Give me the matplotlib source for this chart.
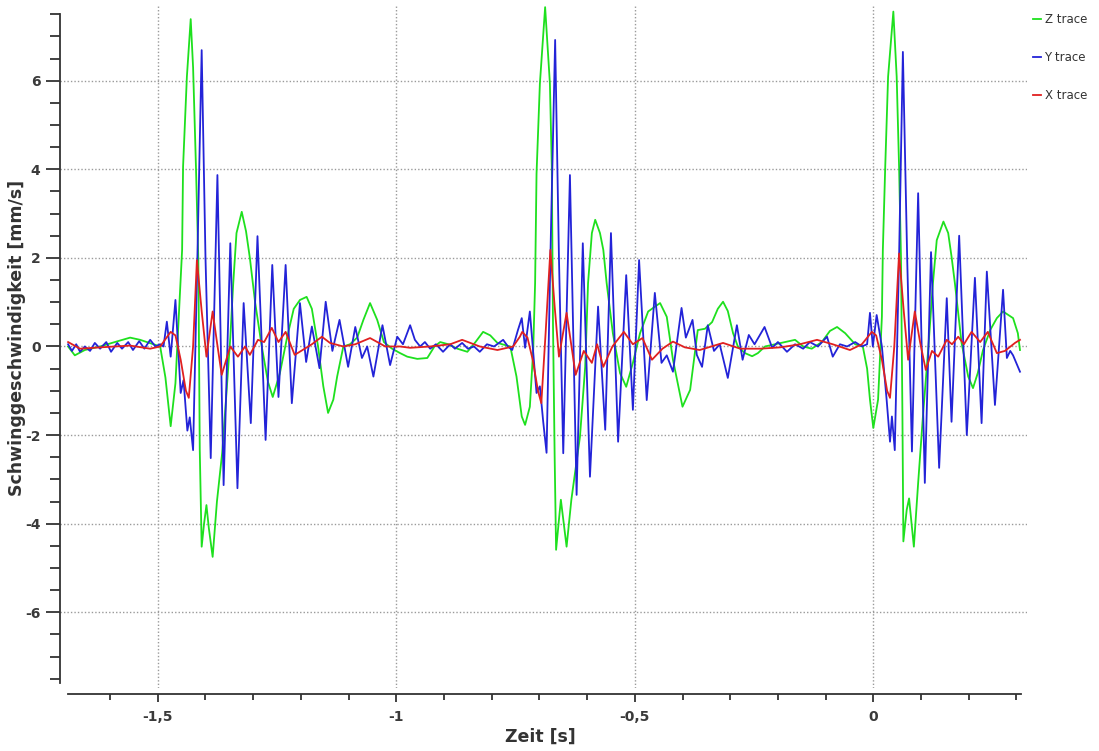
import matplotlib
matplotlib.use("Agg")
import matplotlib.pyplot as plt
from matplotlib.ticker import FixedLocator, FixedFormatter

plt.rcParams['axes.unicode_minus'] = False

# ---------------- data (time in s, velocity in mm/s) ----------------
t_z = [-1.688, -1.674, -1.653, -1.621, -1.590, -1.558, -1.537, -1.495, -1.484, -1.473,
       -1.463, -1.456, -1.449, -1.447, -1.439, -1.431, -1.426, -1.420, -1.415, -1.412,
       -1.408, -1.403, -1.398, -1.393, -1.385, -1.376, -1.365, -1.357, -1.348, -1.342,
       -1.335, -1.324, -1.315, -1.307, -1.296, -1.282, -1.269, -1.259, -1.244, -1.229,
       -1.215, -1.202, -1.188, -1.177, -1.164, -1.153, -1.143, -1.132, -1.124, -1.111,
       -1.097, -1.082, -1.069, -1.055, -1.040, -1.026, -1.009, -0.992, -0.977, -0.956,
       -0.935, -0.920, -0.908, -0.891, -0.872, -0.851, -0.834, -0.818, -0.803, -0.788,
       -0.761, -0.748, -0.737, -0.730, -0.720, -0.713, -0.709, -0.706, -0.699, -0.688,
       -0.678, -0.674, -0.6715, -0.668, -0.665, -0.655, -0.643, -0.633, -0.615, -0.604,
       -0.598, -0.590, -0.583, -0.573, -0.566, -0.559, -0.546, -0.531, -0.518, -0.504,
       -0.489, -0.472, -0.447, -0.433, -0.420, -0.400, -0.384, -0.368, -0.353, -0.338,
       -0.326, -0.315, -0.305, -0.294, -0.284, -0.269, -0.254, -0.242, -0.227, -0.206,
       -0.185, -0.164, -0.147, -0.129, -0.108, -0.091, -0.076, -0.059, -0.038, -0.022,
       -0.013, -0.007, 0.000, 0.010, 0.018, 0.020, 0.025, 0.031, 0.042, 0.049,
       0.054, 0.058, 0.061, 0.063, 0.070, 0.075, 0.085, 0.094, 0.104, 0.115,
       0.125, 0.133, 0.147, 0.157, 0.164, 0.171, 0.185, 0.199, 0.209, 0.219,
       0.230, 0.245, 0.259, 0.272, 0.293, 0.303, 0.3075]
v_z = [0.0, -0.2, -0.08, 0.0, 0.1, 0.2, 0.15, 0.0, -0.7, -1.8,
       -0.83, 0.67, 2.18, 4.06, 6.09, 7.39, 6.3, 4.06, 1.95, -2.34,
       -4.52, -4.0, -3.58, -4.1, -4.75, -3.5, -2.4, -1.2, 0.2, 1.4,
       2.56, 3.04, 2.6, 2.0, 1.0, 0.0, -0.8, -1.14, -0.6, 0.2,
       0.85, 1.05, 1.12, 0.85, 0.0, -0.9, -1.5, -1.2, -0.68, 0.0,
       0.05, 0.2, 0.6, 0.98, 0.6, 0.1, -0.05, -0.15, -0.23, -0.28,
       -0.26, 0.0, 0.1, 0.05, -0.05, -0.12, 0.1, 0.33, 0.25, 0.08,
       0.0, -0.68, -1.58, -1.77, -1.36, -0.08, 1.43, 3.9, 5.93, 7.66,
       5.94, 4.06, 0.5, -2.5, -4.59, -3.46, -4.52, -3.46, -2.04, -0.46,
       1.43, 2.56, 2.86, 2.56, 2.18, 1.43, 0.3, -0.6, -0.91, -0.37,
       0.3, 0.79, 0.98, 0.67, -0.3, -1.36, -0.98, 0.37, 0.4, 0.55,
       0.85, 1.01, 0.8, 0.3, 0.0, -0.15, -0.22, -0.15, 0.0, 0.05,
       0.1, 0.15, 0.0, -0.05, 0.1, 0.35, 0.44, 0.3, 0.05, 0.0,
       -0.5, -1.2, -1.84, -1.2, 0.67, 2.18, 4.06, 6.09, 7.56, 6.09,
       4.06, 2.03, -1.5, -4.4, -3.69, -3.43, -4.52, -3.08, -1.58, -0.08,
       1.43, 2.4, 2.82, 2.56, 2.03, 1.43, 0.08, -0.68, -0.94, -0.6,
       -0.08, 0.37, 0.64, 0.79, 0.64, 0.3, -0.08]

t_y = [-1.688, -1.680, -1.671, -1.663, -1.653, -1.642, -1.632, -1.621, -1.608, -1.598,
       -1.585, -1.575, -1.562, -1.552, -1.539, -1.528, -1.516, -1.505, -1.495, -1.488,
       -1.481, -1.473, -1.463, -1.452, -1.446, -1.438, -1.433, -1.426, -1.417, -1.408,
       -1.400, -1.389, -1.375, -1.362, -1.348, -1.333, -1.320, -1.305, -1.291, -1.274,
       -1.260, -1.247, -1.232, -1.219, -1.202, -1.189, -1.177, -1.161, -1.148, -1.134,
       -1.119, -1.101, -1.086, -1.072, -1.061, -1.048, -1.029, -1.013, -0.998, -0.986,
       -0.971, -0.961, -0.950, -0.940, -0.929, -0.917, -0.902, -0.887, -0.877, -0.862,
       -0.850, -0.837, -0.825, -0.810, -0.795, -0.776, -0.766, -0.757, -0.745, -0.737,
       -0.730, -0.720, -0.706, -0.699, -0.692, -0.685, -0.676, -0.667, -0.659, -0.650,
       -0.636, -0.622, -0.609, -0.594, -0.577, -0.562, -0.550, -0.535, -0.518, -0.504,
       -0.491, -0.475, -0.458, -0.444, -0.433, -0.420, -0.402, -0.393, -0.379, -0.370,
       -0.359, -0.347, -0.334, -0.322, -0.305, -0.286, -0.274, -0.261, -0.249, -0.228,
       -0.212, -0.200, -0.181, -0.164, -0.147, -0.133, -0.116, -0.097, -0.085, -0.070,
       -0.055, -0.038, -0.024, -0.013, -0.007, -0.001, 0.007, 0.018, 0.028, 0.035,
       0.039, 0.045, 0.054, 0.062, 0.071, 0.081, 0.094, 0.108, 0.121, 0.138,
       0.154, 0.164, 0.180, 0.196, 0.213, 0.227, 0.238, 0.255, 0.272, 0.280,
       0.287, 0.293, 0.3075]
v_y = [0.05, -0.1, 0.05, -0.12, 0.0, -0.1, 0.08, -0.05, 0.1, -0.12,
       0.08, -0.05, 0.1, -0.08, 0.12, -0.05, 0.15, 0.0, 0.05, 0.0,
       0.56, -0.23, 1.05, -1.05, -0.76, -1.9, -1.6, -2.34, 2.0, 6.69,
       2.0, -2.52, 3.87, -3.13, 2.33, -3.2, 0.98, -1.73, 2.49, -2.11,
       1.84, -1.14, 1.84, -1.28, 0.98, -0.35, 0.45, -0.49, 1.01, -0.1,
       0.6, -0.46, 0.44, -0.26, 0.0, -0.68, 0.48, -0.42, 0.22, 0.05,
       0.48, 0.15, 0.0, 0.1, -0.05, 0.05, -0.12, 0.05, -0.05, 0.08,
       -0.05, 0.0, -0.12, 0.05, 0.0, 0.15, 0.0, -0.08, 0.37, 0.64,
       -0.03, 0.79, -1.05, -0.9, -1.7, -2.4, 2.5, 6.92, 2.0, -2.41,
       3.87, -3.35, 2.33, -2.94, 0.9, -1.88, 2.56, -2.15, 1.61, -1.43,
       1.95, -1.21, 1.21, -0.37, -0.2, -0.57, 0.87, 0.2, 0.6, -0.19,
       -0.46, 0.48, -0.1, 0.05, -0.71, 0.48, -0.3, 0.26, 0.05, 0.44,
       -0.03, 0.1, -0.12, 0.05, -0.05, 0.1, 0.0, 0.22, -0.23, 0.05,
       0.0, 0.1, 0.0, 0.05, 0.76, 0.0, 0.71, 0.0, -1.21, -2.15,
       -1.58, -2.34, 2.0, 6.65, 2.0, -2.37, 3.46, -3.08, 2.13, -2.74,
       1.09, -1.7, 2.5, -2.0, 1.55, -1.73, 1.69, -1.32, 1.28, -0.26,
       -0.1, -0.2, -0.57]

t_x = [-1.688, -1.663, -1.621, -1.558, -1.516, -1.495, -1.473, -1.463, -1.452, -1.441,
       -1.435, -1.426, -1.418, -1.408, -1.398, -1.385, -1.376, -1.366, -1.348, -1.332,
       -1.317, -1.307, -1.290, -1.277, -1.261, -1.247, -1.232, -1.213, -1.192, -1.177,
       -1.156, -1.139, -1.111, -1.086, -1.055, -1.023, -0.992, -0.971, -0.929, -0.887,
       -0.862, -0.825, -0.788, -0.755, -0.741, -0.736, -0.725, -0.714, -0.703, -0.696,
       -0.687, -0.677, -0.668, -0.659, -0.643, -0.624, -0.607, -0.590, -0.579, -0.566,
       -0.547, -0.523, -0.504, -0.484, -0.464, -0.442, -0.420, -0.395, -0.364, -0.315,
       -0.279, -0.237, -0.195, -0.154, -0.118, -0.085, -0.049, -0.024, -0.003, 0.006,
       0.018, 0.029, 0.035, 0.044, 0.054, 0.063, 0.073, 0.087, 0.098, 0.110,
       0.123, 0.136, 0.154, 0.165, 0.178, 0.190, 0.206, 0.224, 0.240, 0.259,
       0.276, 0.297, 0.3075]
v_x = [0.1, -0.05, -0.02, 0.02, -0.05, 0.0, 0.33, 0.25, -0.3, -1.0,
       -1.16, 0.0, 1.95, 0.8, -0.23, 0.79, 0.1, -0.64, 0.0, -0.23,
       0.0, -0.19, 0.15, 0.1, 0.42, 0.1, 0.33, -0.19, -0.05, 0.05,
       0.22, 0.08, 0.0, 0.05, 0.19, 0.0, 0.0, -0.03, 0.0, 0.05,
       0.15, 0.0, -0.08, 0.0, 0.22, 0.33, 0.2, -0.3, -1.0, -1.28,
       0.3, 2.18, 0.9, -0.23, 0.76, -0.64, -0.1, -0.37, 0.05, -0.46,
       0.0, 0.33, 0.05, 0.19, -0.3, -0.05, 0.11, -0.02, -0.08, 0.08,
       -0.05, -0.05, -0.02, 0.05, 0.15, 0.05, -0.08, 0.05, 0.33, 0.25,
       -0.3, -1.0, -1.16, 0.0, 2.1, 0.9, -0.3, 0.79, 0.1, -0.53,
       -0.1, -0.23, 0.15, 0.05, 0.22, 0.05, 0.33, 0.1, 0.33, -0.15,
       -0.1, 0.08, 0.15]

series_labels = ["Z trace", "Y trace", "X trace"]
x_major = [-1.5, -1.0, -0.5, 0.0]
x_major_labels = ["-1,5", "-1", "-0,5", "0"]
x_minor = [-1.6, -1.4, -1.3, -1.2, -1.1, -0.9, -0.8, -0.7, -0.6, -0.4, -0.3, -0.2, -0.1, 0.1, 0.2, 0.3]
y_major = [-6, -4, -2, 0, 2, 4, 6]
y_major_labels = ["-6", "-4", "-2", "0", "2", "4", "6"]
y_minor = [-7.5, -7, -6.5, -5.5, -5, -4.5, -3.5, -3, -2.5, -1.5, -1, -0.5,
           0.5, 1, 1.5, 2.5, 3, 3.5, 4.5, 5, 5.5, 6.5, 7, 7.5]

# ---------------- figure ----------------
W, H = 1099, 751
fig = plt.figure(figsize=(W / 100, H / 100), dpi=100)
ax = fig.add_axes([60 / W, 1 - 688 / H, (1027 - 60) / W, (688 - 5) / H])

c_z, c_y, c_x = "#1ee01e", "#2323d8", "#e02020"
lw = 1.3
ax.plot(t_z, v_z, color=c_z, lw=lw, label=series_labels[0], solid_joinstyle="round")
ax.plot(t_y, v_y, color=c_y, lw=lw, label=series_labels[1], solid_joinstyle="round")
ax.plot(t_x, v_x, color=c_x, lw=lw, label=series_labels[2], solid_joinstyle="round")

ax.set_xlim(-1.705, 0.3222)
ax.set_ylim(-7.71, 7.709)

for s in ["top", "right"]:
    ax.spines[s].set_visible(False)
ax.spines["bottom"].set_position(("outward", 4))
ax.spines["bottom"].set_bounds(-1.688, 0.31)
ax.spines["left"].set_bounds(-7.6, 7.5)
for s in ["bottom", "left"]:
    ax.spines[s].set_color("#333333")
    ax.spines[s].set_linewidth(1.3)

ax.xaxis.set_major_locator(FixedLocator(x_major))
ax.xaxis.set_major_formatter(FixedFormatter(x_major_labels))
ax.xaxis.set_minor_locator(FixedLocator(x_minor))
ax.yaxis.set_major_locator(FixedLocator(y_major))
ax.yaxis.set_major_formatter(FixedFormatter(y_major_labels))
ax.yaxis.set_minor_locator(FixedLocator(y_minor))

tick_font = dict(family=["DejaVu Sans"], weight="bold", size=10)
ax.tick_params(axis="y", which="major", length=10, width=1.3, color="#333333",
               labelcolor="#3a3a3a", pad=4)
ax.tick_params(axis="y", which="minor", length=7, width=1.3, color="#333333")
ax.tick_params(axis="x", which="major", length=6, width=1.3, color="#333333",
               labelcolor="#3a3a3a", pad=6)
ax.tick_params(axis="x", which="minor", length=4, width=1.3, color="#333333")
for lab in ax.get_xticklabels() + ax.get_yticklabels():
    lab.set_fontproperties(matplotlib.font_manager.FontProperties(**tick_font))

ax.grid(True, which="major", color="#9a9a9a", linestyle=(0, (1, 1.5)), linewidth=1.0)
ax.set_axisbelow(True)

fig.text(540 / W, 1 - 737 / H, "Zeit [s]", ha="center", va="center",
         fontsize=12.5, fontweight="bold", color="#333333")
fig.text(17 / W, 1 - 338 / H, "Schwinggeschwindigkeit [mm/s]", ha="center", va="center",
         rotation=90, fontsize=12.5, fontweight="bold", color="#333333")

leg = ax.legend(loc="upper left", bbox_to_anchor=(1028 / W, 1 - 8 / H),
                bbox_transform=fig.transFigure, frameon=False, fontsize=8.5,
                handlelength=0.7, handletextpad=0.3, labelspacing=2.12,
                borderaxespad=0)
for txt in leg.get_texts():
    txt.set_color("#333333")

fig.savefig("out.png", dpi=100)
